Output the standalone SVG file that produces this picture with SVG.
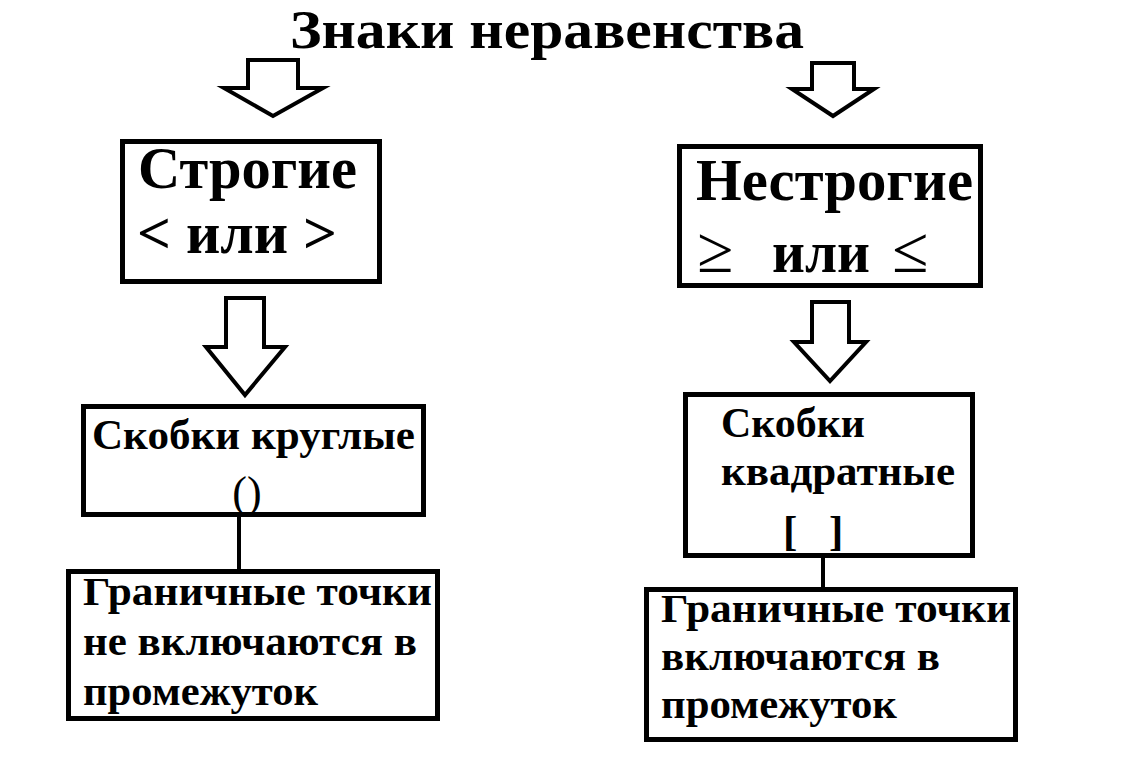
<svg xmlns="http://www.w3.org/2000/svg" width="1123" height="764" viewBox="0 0 1123 764">
<style>
.t{font-family:"Liberation Serif","Times New Roman",serif;font-weight:bold;fill:#000}
.box{fill:#fff;stroke:#000;stroke-width:5}
.arr{fill:#fff;stroke:#000;stroke-width:4;stroke-linejoin:miter}
.con{stroke:#000;stroke-width:4;fill:none}
</style>
<rect width="1123" height="764" fill="#fff"/>
<text class="t" x="290" y="48" font-size="55" textLength="514" lengthAdjust="spacingAndGlyphs">Знаки неравенства</text>
<g id="connectors">
<polygon class="arr" points="248,60 298,60 298,88 323,88 273,116 224,88 248,88"/>
<polygon class="arr" points="812,63 854,63 854,89 874,89 833,116 792,89 812,89"/>
<polygon class="arr" points="226,298 264,298 264,347 285,347 245,395 206,347 226,347"/>
<polygon class="arr" points="812,302 849,302 849,342 866,342 830,381 794,342 812,342"/>
<line class="con" x1="239" y1="517" x2="239" y2="571"/>
<line class="con" x1="823" y1="558" x2="823" y2="589"/>
</g>
<g id="strict">
<rect class="box" x="122.5" y="141.5" width="257" height="140"/>
<text class="t" x="138" y="188" font-size="60" textLength="219" lengthAdjust="spacingAndGlyphs">Строгие</text>
<text class="t" x="137" y="253" font-size="60" textLength="200" lengthAdjust="spacingAndGlyphs">&lt; или &gt;</text>
</g>
<g id="nonstrict">
<rect class="box" x="679.5" y="146.5" width="301" height="139"/>
<text class="t" x="696" y="200" font-size="60" textLength="277" lengthAdjust="spacingAndGlyphs">Нестрогие</text>
<text class="t" y="272" font-size="60"><tspan x="697" font-size="66" font-weight="normal">≥</tspan><tspan x="772" textLength="98" lengthAdjust="spacingAndGlyphs">или</tspan><tspan x="892" font-size="66" font-weight="normal">≤</tspan></text>
</g>
<g id="round">
<rect class="box" x="83.5" y="406.5" width="340" height="108"/>
<text class="t" x="92" y="449" font-size="43" textLength="323" lengthAdjust="spacingAndGlyphs">Скобки круглые</text>
<text class="t" x="247" y="507" font-size="44" text-anchor="middle" style="font-weight:normal">()</text>
</g>
<g id="square">
<rect class="box" x="685.5" y="394.5" width="287" height="161"/>
<text class="t" x="721" y="437" font-size="43" textLength="144" lengthAdjust="spacingAndGlyphs">Скобки</text>
<text class="t" x="721" y="485" font-size="43" textLength="234" lengthAdjust="spacingAndGlyphs">квадратные</text>
<text class="t" y="545" font-size="43"><tspan x="783">[</tspan><tspan x="829">]</tspan></text>
</g>
<g id="excluded">
<rect class="box" x="68.5" y="571.5" width="369" height="147"/>
<text class="t" x="83" y="605" font-size="39" textLength="349" lengthAdjust="spacingAndGlyphs">Граничные точки</text>
<text class="t" x="83" y="655" font-size="39" textLength="334" lengthAdjust="spacingAndGlyphs">не включаются в</text>
<text class="t" x="83" y="705" font-size="39" textLength="235" lengthAdjust="spacingAndGlyphs">промежуток</text>
</g>
<g id="included">
<rect class="box" x="646.5" y="589.5" width="369" height="150"/>
<text class="t" x="661" y="622" font-size="40" textLength="350" lengthAdjust="spacingAndGlyphs">Граничные точки</text>
<text class="t" x="661" y="670" font-size="40" textLength="279" lengthAdjust="spacingAndGlyphs">включаются в</text>
<text class="t" x="661" y="718" font-size="40" textLength="236" lengthAdjust="spacingAndGlyphs">промежуток</text>
</g>
</svg>
